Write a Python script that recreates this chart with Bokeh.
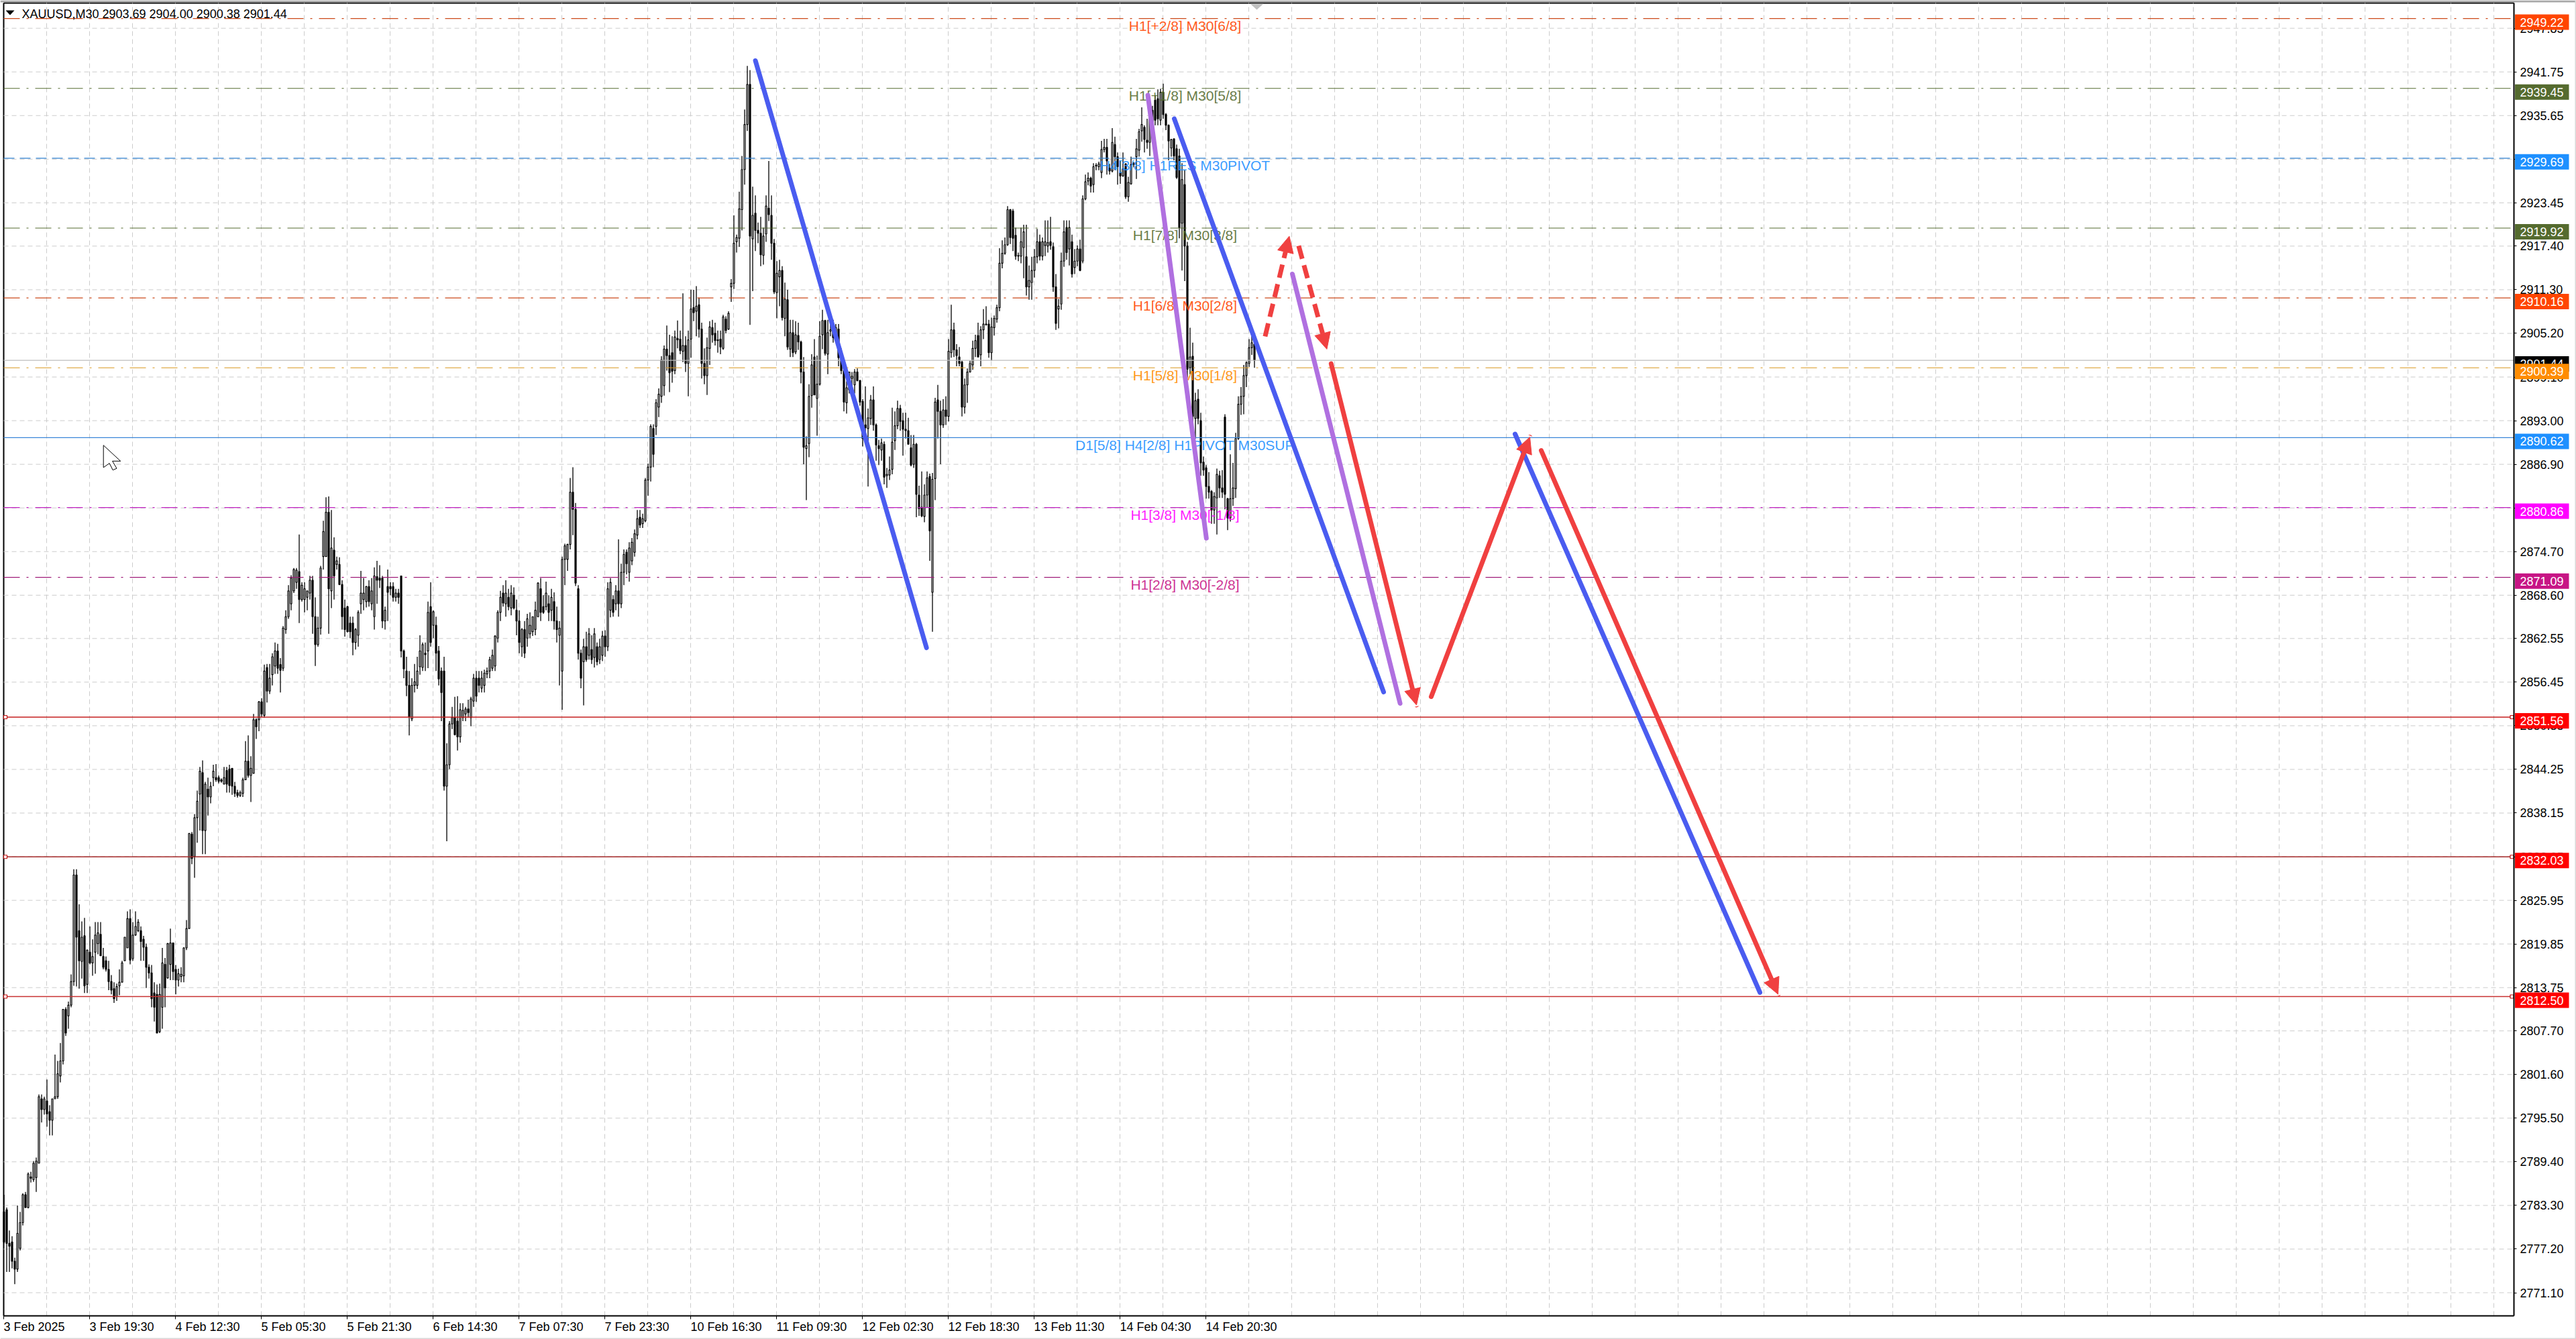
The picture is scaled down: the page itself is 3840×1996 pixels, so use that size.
from bokeh.plotting import figure
from bokeh.embed import file_html
from bokeh.resources import INLINE
from bokeh.models import (FixedTicker, NumeralTickFormatter, Label, BoxAnnotation, Arrow,
                          NormalHead, Range1d, ColumnDataSource, LinearAxis)
from bokeh.core.properties import value

opens = [
2782.4,2782.7,2778.0,2778.2,2775.5,2774.4,2777.3,2780.9,2784.8,2783.0,
2787.3,2786.9,2787.2,2789.2,2798.2,2796.7,2797.9,2796.4,2795.2,2798.2,
2798.5,2801.4,2803.5,2810.7,2809.8,2811.3,2814.6,2829.5,2821.7,2817.4,
2821.0,2814.2,2818.7,2817.2,2818.7,2819.9,2821.2,2818.1,2817.5,2816.3,
2814.6,2813.6,2812.5,2814.0,2814.5,2817.5,2819.3,2823.4,2817.8,2821.1,
2821.7,2821.7,2820.5,2819.4,2816.6,2815.8,2813.0,2812.8,2807.6,2811.0,
2817.0,2815.1,2817.0,2820.0,2816.3,2814.8,2815.3,2815.4,2819.3,2822.0,
2835.2,2832.1,2837.5,2840.8,2843.8,2835.7,2841.5,2840.4,2843.1,2843.1,
2843.1,2842.8,2842.2,2844.1,2844.3,2844.4,2841.9,2841.0,2840.6,2840.9,
2842.8,2845.4,2843.4,2843.7,2851.2,2851.2,2853.7,2851.8,2858.5,2855.2,
2857.5,2858.7,2860.8,2858.9,2858.4,2863.8,2865.6,2867.4,2869.2,2870.4,
2871.9,2868.0,2868.0,2868.3,2868.9,2870.7,2865.6,2861.7,2864.0,2874.0,
2874.0,2880.2,2869.2,2874.9,2872.9,2872.9,2870.1,2866.8,2867.0,2864.7,
2864.7,2862.0,2863.0,2867.4,2868.0,2867.7,2869.8,2867.4,2865.6,2871.2,
2871.0,2871.0,2865.0,2869.8,2869.8,2869.8,2868.3,2868.9,2871.3,2860.8,
2858.0,2856.0,2851.3,2856.0,2856.0,2858.6,2858.5,2860.5,2860.8,2867.0,
2864.4,2864.4,2860.8,2858.0,2858.0,2841.9,2844.9,2850.6,2851.5,2851.0,
2848.8,2851.5,2852.0,2852.7,2851.5,2853.8,2857.0,2857.0,2855.6,2856.0,
2857.6,2858.0,2858.4,2858.7,2862.6,2866.2,2868.9,2867.4,2868.3,2866.8,
2868.6,2866.5,2865.0,2861.4,2863.8,2862.6,2863.2,2863.5,2863.8,2865.6,
2869.5,2867.0,2867.0,2867.4,2866.5,2867.7,2865.0,2863.0,2858.0,2873.6,
2873.6,2875.7,2883.0,2880.6,2869.5,2860.5,2859.3,2861.4,2860.2,2861.0,
2859.9,2861.4,2859.6,2860.2,2862.9,2861.4,2866.5,2868.0,2867.4,2869.2,
2867.4,2871.8,2874.6,2871.8,2873.4,2874.6,2877.0,2879.5,2878.6,2879.0,
2884.7,2886.5,2891.9,2892.2,2894.9,2896.4,2897.9,2903.0,2902.1,2902.5,
2900.0,2904.5,2904.4,2902.7,2903.5,2901.0,2904.4,2908.8,2908.3,2909.2,
2905.8,2901.0,2899.3,2903.1,2906.0,2905.2,2904.3,2904.4,2903.1,2907.2,
2905.8,2911.7,2912.2,2918.0,2918.5,2922.5,2928.1,2934.4,2940.0,2918.4,
2922.0,2919.6,2919.2,2916.1,2919.1,2922.7,2921.7,2917.8,2910.9,2913.1,
2914.0,2907.3,2909.9,2903.0,2905.3,2902.6,2904.9,2904.0,2899.8,2889.1,
2889.8,2896.5,2901.9,2896.1,2898.1,2905.0,2907.0,2902.3,2905.5,2906.0,
2904.9,2905.8,2901.8,2900.0,2895.5,2897.3,2898.9,2898.0,2899.8,2898.6,
2895.7,2892.4,2891.9,2893.3,2895.9,2892.4,2889.5,2888.9,2889.7,2885.3,
2885.4,2886.2,2890.2,2892.3,2894.7,2893.0,2891.8,2891.6,2889.2,2886.9,
2889.7,2882.6,2880.9,2879.6,2882.6,2885.2,2869.0,2884.9,2895.9,2894.3,
2892.4,2894.5,2893.6,2902.5,2905.7,2902.9,2901.9,2901.2,2894.9,2898.0,
2899.8,2900.8,2903.1,2904.9,2902.2,2905.7,2906.4,2906.5,2902.5,2906.0,
2907.2,2908.8,2915.0,2916.4,2917.6,2922.5,2922.3,2918.9,2916.0,2916.0,
2917.2,2915.9,2911.7,2912.3,2914.0,2915.9,2918.0,2916.0,2917.5,2917.4,
2918.0,2917.3,2911.7,2908.6,2909.3,2915.3,2920.0,2917.0,2918.0,2914.4,
2915.3,2917.0,2915.3,2924.0,2926.5,2926.9,2926.0,2928.6,2928.5,2927.7,
2930.9,2931.2,2928.3,2927.9,2931.6,2929.9,2927.7,2927.2,2928.9,2924.3,
2926.1,2928.8,2929.9,2930.8,2933.5,2934.0,2932.2,2931.9,2936.4,2937.8,
2938.0,2935.0,2938.9,2935.8,2934.3,2931.1,2932.4,2931.0,2930.0,2920.6,
2926.0,2917.4,2900.4,2902.0,2893.3,2896.0,2893.0,2887.2,2886.4,2883.8,
2883.1,2880.5,2882.2,2885.3,2883.6,2893.5,2882.1,2879.4,2882.1,2883.5,
2890.5,2895.3,2896.4,2899.3,2901.0,2903.2,2903.69]

highs = [
2784.8,2783.0,2779.8,2779.0,2776.0,2783.3,2782.4,2785.0,2785.2,2787.9,
2788.0,2789.5,2790.0,2798.8,2798.8,2798.5,2800.9,2797.3,2798.2,2804.4,
2803.5,2806.0,2810.7,2811.0,2811.8,2815.6,2830.3,2830.3,2825.4,2823.0,
2823.5,2819.0,2822.3,2820.5,2822.9,2822.9,2822.9,2819.3,2818.1,2817.5,
2815.5,2814.5,2814.3,2816.3,2817.5,2820.8,2824.4,2824.7,2822.9,2824.4,
2823.3,2822.3,2821.0,2819.9,2817.0,2816.9,2814.5,2814.2,2814.3,2819.3,
2817.9,2820.0,2822.0,2820.0,2816.9,2816.4,2816.6,2819.4,2823.2,2835.3,
2835.5,2838.0,2841.3,2844.6,2845.5,2842.5,2843.1,2842.5,2844.9,2845.0,
2843.4,2843.0,2844.6,2844.6,2844.9,2844.4,2842.5,2841.4,2841.3,2843.1,
2848.2,2849.0,2846.1,2852.0,2851.4,2853.8,2854.2,2858.9,2859.0,2859.0,
2860.5,2862.0,2861.8,2859.8,2864.3,2866.5,2870.0,2871.4,2872.4,2872.4,
2877.1,2870.4,2870.4,2869.2,2871.3,2871.3,2868.3,2865.6,2872.7,2879.0,
2882.3,2882.4,2880.5,2876.7,2874.0,2873.9,2870.7,2868.0,2867.1,2865.6,
2865.6,2864.0,2866.5,2872.0,2871.0,2869.9,2870.7,2871.0,2872.5,2873.4,
2872.8,2871.3,2867.0,2872.2,2870.4,2870.4,2869.5,2869.5,2871.3,2861.0,
2860.0,2858.0,2857.0,2859.0,2860.0,2863.0,2862.0,2862.0,2867.7,2870.4,
2866.5,2865.6,2861.5,2858.5,2860.0,2847.9,2851.0,2853.0,2854.4,2854.5,
2853.5,2853.5,2853.0,2854.0,2854.4,2857.6,2858.0,2858.0,2858.0,2858.2,
2858.5,2860.0,2861.0,2863.0,2866.5,2869.2,2870.0,2870.7,2869.5,2870.0,
2869.7,2868.0,2866.5,2864.0,2865.0,2866.0,2866.2,2865.6,2867.7,2870.4,
2871.0,2868.6,2870.5,2868.6,2869.5,2869.0,2867.0,2865.0,2874.0,2875.8,
2875.8,2885.0,2886.5,2881.5,2870.0,2861.0,2862.5,2863.5,2864.0,2863.0,
2864.0,2862.0,2862.5,2863.6,2863.7,2870.4,2871.0,2868.6,2870.0,2876.4,
2873.0,2875.0,2875.0,2876.0,2876.6,2877.8,2880.5,2880.5,2880.0,2885.0,
2887.0,2892.5,2892.5,2896.0,2897.5,2902.0,2903.5,2906.3,2905.0,2904.8,
2905.6,2907.0,2905.6,2910.8,2904.8,2905.6,2911.3,2911.3,2911.8,2910.2,
2906.7,2903.1,2904.6,2906.9,2907.1,2906.7,2905.6,2905.6,2907.8,2907.6,
2908.3,2912.8,2921.7,2919.0,2925.0,2930.0,2936.5,2942.6,2942.0,2925.7,
2924.5,2920.7,2921.5,2920.0,2924.5,2929.3,2924.5,2918.4,2915.3,2915.5,
2914.6,2912.3,2911.3,2907.1,2907.1,2906.9,2906.7,2904.2,2901.9,2890.8,
2898.1,2902.3,2904.4,2902.1,2906.9,2908.5,2907.1,2907.1,2907.5,2907.1,
2906.5,2906.5,2903.1,2900.0,2898.5,2899.8,2899.8,2900.2,2900.3,2898.7,
2896.0,2897.8,2894.7,2896.6,2897.8,2892.6,2890.3,2890.5,2890.1,2886.4,
2888.0,2894.8,2894.3,2895.8,2895.2,2894.1,2894.1,2893.4,2891.0,2891.0,
2889.9,2883.9,2885.9,2884.1,2885.9,2885.6,2885.7,2896.2,2898.0,2895.8,
2896.0,2896.4,2904.4,2909.2,2906.7,2903.7,2903.3,2901.4,2898.9,2900.3,
2901.4,2904.2,2905.0,2906.7,2906.2,2908.6,2909.0,2907.1,2907.4,2907.7,
2909.2,2917.1,2918.2,2918.6,2923.0,2922.6,2922.6,2920.0,2916.5,2920.0,
2920.4,2920.4,2914.7,2915.9,2917.0,2919.8,2919.0,2918.6,2921.0,2921.0,
2921.5,2917.9,2913.5,2910.0,2916.5,2921.0,2921.0,2921.0,2919.0,2917.0,
2917.5,2918.3,2924.5,2927.4,2927.7,2927.1,2929.0,2929.0,2929.2,2932.1,
2932.4,2932.4,2928.9,2933.9,2932.7,2930.5,2929.3,2930.5,2929.0,2927.1,
2929.9,2929.1,2932.4,2933.8,2936.8,2934.3,2935.2,2937.0,2937.0,2938.5,
2939.3,2939.4,2940.1,2936.0,2934.4,2932.4,2932.4,2931.6,2931.0,2929.0,
2928.0,2918.0,2906.0,2903.9,2896.9,2897.4,2894.1,2888.0,2886.8,2885.8,
2883.3,2883.0,2886.3,2886.0,2886.1,2893.9,2882.2,2888.3,2887.1,2891.3,
2896.4,2897.7,2900.8,2901.3,2904.4,2904.9,2904.0]

lows = [
2778.0,2774.0,2774.0,2774.5,2772.3,2774.0,2777.0,2780.5,2783.0,2782.9,
2786.5,2786.6,2785.2,2789.2,2794.9,2796.0,2794.3,2793.1,2793.1,2798.2,
2798.2,2800.5,2803.0,2807.0,2808.0,2811.0,2814.0,2813.9,2813.6,2815.0,
2813.0,2813.0,2817.0,2815.4,2815.7,2818.4,2818.2,2816.3,2816.0,2813.4,
2812.8,2811.6,2811.9,2812.7,2814.5,2817.5,2819.3,2817.0,2817.5,2821.0,
2821.5,2817.5,2817.5,2813.7,2815.0,2811.0,2809.0,2807.4,2807.4,2808.0,
2811.0,2815.0,2814.8,2814.8,2812.8,2813.9,2814.5,2814.5,2819.0,2822.0,
2831.0,2829.1,2834.0,2835.7,2832.4,2832.4,2837.8,2839.5,2841.9,2842.5,
2842.3,2842.4,2842.2,2841.0,2841.0,2840.7,2840.4,2840.3,2840.4,2840.4,
2842.8,2843.1,2839.7,2843.7,2848.5,2849.6,2851.6,2851.5,2853.6,2854.8,
2856.0,2857.6,2857.6,2855.0,2858.0,2863.2,2865.3,2866.5,2868.9,2869.5,
2864.7,2867.7,2866.2,2866.5,2868.0,2863.2,2858.7,2861.4,2863.1,2872.2,
2874.0,2863.2,2866.8,2868.0,2872.2,2870.0,2863.8,2862.8,2863.4,2862.6,
2860.2,2861.0,2861.4,2866.0,2866.5,2866.9,2867.0,2866.5,2863.8,2867.4,
2869.6,2864.0,2863.8,2865.0,2868.6,2867.7,2867.7,2867.4,2859.9,2857.0,
2854.5,2849.0,2851.0,2855.0,2855.5,2857.5,2858.0,2858.0,2858.4,2861.4,
2862.6,2858.0,2856.0,2851.0,2841.3,2834.2,2844.3,2849.9,2849.0,2846.9,
2848.0,2851.0,2851.0,2851.5,2850.3,2853.0,2853.7,2855.0,2855.0,2855.0,
2857.0,2857.0,2858.0,2858.0,2862.0,2865.0,2867.0,2865.6,2866.5,2865.8,
2866.6,2863.0,2860.5,2860.0,2859.8,2861.4,2862.6,2862.9,2863.0,2865.5,
2865.0,2866.0,2866.5,2865.0,2865.0,2863.8,2862.0,2856.0,2852.6,2870.0,
2872.0,2875.0,2877.0,2869.9,2859.6,2855.6,2853.2,2859.3,2859.6,2859.0,
2858.5,2858.8,2859.0,2859.4,2860.0,2860.8,2865.5,2865.6,2866.5,2865.6,
2866.8,2870.0,2871.5,2870.5,2872.8,2874.0,2876.4,2878.0,2878.0,2878.8,
2882.5,2884.5,2886.5,2891.0,2893.5,2895.5,2896.5,2900.0,2897.0,2898.3,
2899.5,2903.1,2902.3,2901.2,2899.8,2896.4,2901.8,2906.9,2904.8,2904.6,
2898.9,2898.1,2896.6,2900.8,2903.9,2903.5,2902.5,2902.3,2902.9,2905.2,
2905.7,2909.6,2911.4,2916.5,2917.3,2919.6,2926.0,2933.5,2906.4,2911.1,
2916.7,2917.8,2914.6,2914.8,2918.0,2920.9,2915.5,2910.7,2907.3,2909.0,
2907.0,2904.8,2902.9,2901.9,2901.9,2902.3,2902.9,2898.2,2886.9,2881.9,
2887.9,2894.8,2896.6,2890.9,2897.9,2903.0,2902.1,2899.5,2904.8,2903.9,
2904.4,2900.6,2899.5,2894.3,2894.0,2896.8,2896.8,2896.8,2898.5,2895.1,
2889.4,2890.1,2883.8,2892.4,2891.6,2887.4,2886.8,2887.4,2884.1,2883.6,
2884.7,2885.5,2888.9,2891.8,2891.6,2888.1,2890.5,2889.7,2886.6,2886.4,
2879.5,2879.7,2879.5,2878.8,2880.9,2873.4,2863.5,2881.9,2890.5,2886.9,
2892.0,2892.4,2892.9,2901.8,2901.9,2900.6,2900.6,2893.6,2894.0,2895.5,
2899.8,2900.1,2901.9,2901.9,2900.6,2904.4,2906.3,2901.8,2901.4,2904.9,
2906.7,2908.3,2914.3,2916.2,2917.4,2917.7,2916.7,2915.5,2915.3,2915.0,
2912.9,2910.5,2909.9,2909.9,2913.0,2915.0,2915.4,2915.4,2916.0,2916.5,
2916.9,2911.0,2905.7,2905.9,2908.5,2914.5,2915.5,2914.7,2913.0,2913.5,
2914.6,2913.9,2915.0,2923.8,2925.9,2924.9,2924.9,2928.0,2928.0,2926.9,
2930.5,2927.4,2927.4,2927.7,2928.0,2926.0,2926.1,2927.1,2924.0,2923.6,
2926.0,2928.4,2926.8,2929.9,2932.0,2930.5,2931.0,2930.0,2933.5,2934.3,
2934.3,2934.3,2935.2,2933.6,2929.4,2929.9,2929.4,2926.8,2918.5,2914.0,
2912.5,2899.0,2899.5,2890.5,2890.5,2892.5,2885.3,2885.3,2882.1,2882.1,
2878.6,2878.6,2877.1,2882.2,2882.2,2880.6,2877.7,2878.9,2881.1,2882.2,
2890.3,2893.8,2893.9,2897.7,2900.5,2902.2,2900.38]

closes = [
2778.2,2778.0,2777.6,2775.5,2774.4,2779.4,2780.9,2784.8,2783.0,2787.7,
2787.1,2789.2,2789.5,2798.5,2796.7,2798.2,2796.1,2795.2,2798.2,2798.5,
2801.7,2803.5,2810.7,2807.4,2811.3,2814.6,2829.5,2820.8,2817.5,2820.8,
2814.0,2819.0,2817.2,2818.1,2821.1,2821.4,2818.2,2816.6,2816.3,2814.6,
2813.4,2812.2,2813.9,2814.5,2817.2,2820.8,2823.4,2817.6,2821.1,2822.3,
2822.9,2820.2,2819.4,2816.6,2815.8,2812.2,2811.0,2807.4,2812.8,2817.2,
2813.7,2819.9,2820.0,2816.0,2814.8,2815.7,2815.6,2819.3,2822.0,2835.3,
2831.8,2837.5,2839.8,2844.0,2835.7,2842.2,2840.4,2841.9,2844.0,2842.8,
2842.6,2842.6,2843.1,2842.2,2842.0,2841.9,2840.9,2840.6,2841.0,2842.8,
2845.4,2843.4,2844.4,2851.2,2850.2,2853.7,2852.0,2858.0,2855.2,2857.0,
2860.0,2860.8,2858.4,2858.1,2864.0,2865.6,2869.2,2871.0,2872.2,2872.1,
2868.0,2870.0,2869.5,2869.2,2870.7,2865.6,2861.7,2864.0,2872.4,2877.5,
2880.2,2869.5,2875.2,2871.3,2873.4,2870.1,2865.6,2863.8,2863.5,2863.5,
2862.0,2863.8,2866.2,2868.9,2868.9,2869.8,2867.7,2869.2,2871.3,2870.7,
2870.7,2865.0,2866.5,2869.0,2869.5,2868.3,2868.9,2868.3,2860.8,2858.3,
2856.0,2851.6,2856.0,2856.5,2858.0,2860.8,2861.7,2860.3,2866.2,2862.0,
2866.3,2860.5,2856.9,2855.0,2841.9,2844.9,2850.6,2851.5,2849.1,2848.8,
2852.6,2852.5,2852.7,2852.2,2854.1,2857.0,2854.5,2856.0,2857.0,2857.7,
2858.0,2859.6,2860.2,2862.9,2866.2,2868.3,2867.5,2868.9,2867.0,2868.9,
2866.8,2865.0,2862.0,2863.8,2860.5,2865.3,2864.4,2865.6,2866.5,2870.3,
2866.2,2866.2,2868.9,2866.2,2868.3,2865.0,2863.8,2864.0,2873.6,2875.5,
2875.7,2883.0,2880.6,2870.3,2860.5,2857.0,2861.4,2859.6,2863.2,2859.6,
2863.2,2859.3,2861.4,2862.9,2861.4,2869.5,2870.4,2866.2,2869.2,2867.4,
2871.8,2874.3,2873.0,2875.2,2876.0,2877.2,2879.3,2878.4,2879.3,2884.7,
2886.5,2892.2,2888.3,2895.5,2896.7,2901.5,2903.0,2902.1,2899.7,2899.9,
2904.7,2904.3,2902.8,2903.5,2901.0,2904.3,2908.6,2908.1,2909.0,2905.8,
2901.0,2899.3,2903.2,2906.1,2905.0,2904.2,2904.2,2903.3,2907.5,2905.6,
2908.0,2912.2,2917.8,2918.6,2922.6,2928.1,2934.4,2940.0,2918.8,2921.7,
2919.6,2919.2,2916.2,2918.8,2923.0,2921.8,2917.8,2911.0,2913.6,2914.0,
2907.4,2910.0,2903.3,2905.3,2902.5,2905.0,2904.0,2899.8,2889.3,2889.5,
2896.4,2900.8,2896.6,2898.1,2904.8,2907.0,2902.4,2905.3,2905.7,2904.6,
2906.0,2901.8,2900.0,2895.6,2897.6,2899.8,2899.2,2899.8,2898.6,2895.6,
2890.5,2892.0,2893.4,2895.9,2892.4,2889.6,2889.1,2889.9,2885.1,2885.5,
2886.1,2890.0,2892.3,2894.7,2892.9,2891.8,2891.6,2889.7,2886.8,2889.7,
2882.7,2880.7,2879.7,2882.6,2885.0,2877.6,2884.8,2895.6,2894.3,2892.4,
2894.5,2893.6,2902.7,2905.7,2902.9,2902.1,2901.0,2894.9,2898.0,2899.8,
2901.0,2903.1,2904.2,2901.9,2905.7,2906.5,2906.5,2902.5,2906.1,2907.3,
2908.8,2915.0,2916.4,2917.6,2922.5,2918.6,2918.5,2916.0,2916.1,2918.0,
2919.4,2911.7,2912.6,2914.0,2915.9,2918.0,2916.0,2918.0,2918.0,2917.9,
2917.5,2911.7,2906.6,2909.0,2915.3,2919.4,2916.5,2920.0,2913.5,2915.3,
2917.0,2914.0,2924.0,2926.4,2926.9,2925.8,2928.5,2928.7,2928.9,2930.9,
2931.2,2929.3,2927.9,2931.9,2929.9,2928.5,2927.2,2928.2,2924.3,2926.3,
2928.8,2929.0,2931.0,2933.4,2934.4,2932.3,2931.9,2936.4,2934.0,2935.0,
2935.2,2938.9,2935.8,2934.3,2932.1,2932.3,2930.0,2927.0,2920.0,2926.7,
2917.4,2900.2,2901.9,2893.6,2895.8,2893.3,2887.1,2886.1,2883.8,2883.0,
2880.5,2882.4,2885.5,2883.6,2883.0,2882.7,2879.4,2882.1,2883.6,2890.5,
2895.3,2896.4,2899.3,2901.1,2903.2,2903.9,2901.44]

assert len(opens) == len(highs) == len(lows) == len(closes), (len(opens), len(highs), len(lows), len(closes))

price_ticks = [2947.85, 2941.75, 2935.65, 2929.55, 2923.45, 2917.40, 2911.30, 2905.20, 2899.10,
               2893.00, 2886.90, 2880.80, 2874.70, 2868.60, 2862.55, 2856.45, 2850.35, 2844.25,
               2838.15, 2832.05, 2825.95, 2819.85, 2813.75, 2807.70, 2801.60, 2795.50, 2789.40,
               2783.30, 2777.20, 2771.10]
time_labels = ["3 Feb 2025", "3 Feb 19:30", "4 Feb 12:30", "5 Feb 05:30", "5 Feb 21:30", "6 Feb 14:30",
               "7 Feb 07:30", "7 Feb 23:30", "10 Feb 16:30", "11 Feb 09:30", "12 Feb 02:30",
               "12 Feb 18:30", "13 Feb 11:30", "14 Feb 04:30", "14 Feb 20:30"]

level_prices = [2949.22, 2939.45, 2929.69, 2919.92, 2910.16, 2900.39, 2890.62, 2880.86, 2871.09]
level_texts = ["H1[+2/8] M30[6/8]", "H1[+1/8] M30[5/8]", "H4[3/8] H1RES M30PIVOT", "H1[7/8] M30[3/8]",
               "H1[6/8] M30[2/8]", "H1[5/8] M30[1/8]", "D1[5/8] H4[2/8] H1PIVOT M30SUP",
               "H1[3/8] M30[-1/8]", "H1[2/8] M30[-2/8]"]
level_colors = ["#FF4500", "#556B2F", "#1E90FF", "#556B2F", "#FF4500", "#FF8C00", "#1E90FF", "#FF00FF", "#C71585"]
line_colors = ["#CC4A1A", "#556B2F", "#2F80D0", "#556B2F", "#CC4A1A", "#D9971F", "#3A86D8", "#C020C0", "#A01C78"]
level_dash = ["24 10 3 10", "24 10 3 10", "16 8", "24 10 3 10", "24 10 3 10", "24 10 3 10", "solid",
              "24 10 3 10", "24 10 3 10"]
red_prices = [2851.56, 2832.03, 2812.50]
red_colors = ["#C41E1E", "#A52A2A", "#C83030"]
red_widths = [1.6, 1.6, 1.3]
last_price = 2901.44

blue_x = [[280.15, 343.9], [436.25, 514.25], [563.25, 654.5]]
blue_y = [[2943.32, 2861.26], [2935.19, 2855.07], [2891.13, 2813.07]]
purple_x = [[426.4, 448.2], [480.25, 520.4]]
purple_y = [[2938.48, 2876.58], [2913.5, 2853.48]]
red_solid = [(494.7, 2900.96, 526.5, 2853.25), (532.0, 2854.42, 568.75, 2890.71), (573.0, 2888.83, 661.25, 2812.82)]
red_dashed = [(470.1, 2904.78, 479.1, 2918.78), (482.6, 2917.44, 493.1, 2903.0)]

# ---- mapping between screenshot pixels and data (chart frame geometry)
BAR_PX, X0_PX = 4.0, 5.0
PX_PER_USD, REF_PRICE, REF_Y = 10.664, 2941.75, 106.7
FRAME_L, FRAME_T, FRAME_R, FRAME_B = 5, 4, 3747, 1961

def bx(px):
    return (px - X0_PX) / BAR_PX

def py(px):
    return REF_PRICE - (px - REF_Y) / PX_PER_USD

def ly(price):
    return REF_Y + (REF_PRICE - price) * PX_PER_USD

FONT = "Liberation Sans"
# the plotting area covers the whole window so that price flags and time labels can sit
# beside the chart; the axes are pinned with fixed_location at the chart's own edges
p = figure(frame_width=3840, frame_height=1996,
           x_range=Range1d(bx(0), bx(3840)), y_range=Range1d(py(1996), py(0)),
           x_axis_location=None, y_axis_location=None,
           output_backend="svg", toolbar_location=None,
           min_border=0, min_border_left=0, min_border_right=0, min_border_top=0, min_border_bottom=0,
           background_fill_color="white", border_fill_color="white")
p.outline_line_color = None
p.xgrid.visible = False
p.ygrid.visible = False

# axes
yaxis = LinearAxis(fixed_location=bx(FRAME_R), bounds=(py(FRAME_B), py(FRAME_T)),
                   ticker=FixedTicker(ticks=price_ticks), formatter=NumeralTickFormatter(format="0.00"),
                   major_label_text_font=FONT, major_label_text_font_size="18px",
                   major_label_text_color="black", major_label_standoff=5, major_tick_out=4, major_tick_in=0,
                   minor_tick_line_color=None, axis_line_color="black", axis_line_width=2)
p.add_layout(yaxis, "right")

tick_bars = [32 * i for i in range(len(time_labels))]
xaxis = LinearAxis(fixed_location=py(FRAME_B), bounds=(bx(FRAME_L), bx(FRAME_R)),
                   ticker=FixedTicker(ticks=tick_bars), major_label_overrides={t: "" for t in tick_bars},
                   major_tick_out=5, major_tick_in=0, minor_tick_line_color=None,
                   axis_line_color="black", axis_line_width=2)
p.add_layout(xaxis, "below")

# left and top frame lines
p.line([bx(FRAME_L), bx(FRAME_L)], [py(FRAME_T), py(FRAME_B)], line_color="black", line_width=2)
p.line([bx(FRAME_L), bx(FRAME_R)], [py(FRAME_T), py(FRAME_T)], line_color="black", line_width=2)

# grid
grid_bars = [16 * i for i in range(1, 59)]
p.segment(grid_bars, [py(FRAME_B)] * len(grid_bars), grid_bars, [py(FRAME_T)] * len(grid_bars),
          line_color="#CCCCCC", line_dash="7 5", line_width=1)
p.segment([bx(FRAME_L)] * len(price_ticks), price_ticks, [bx(FRAME_R)] * len(price_ticks), price_ticks,
          line_color="#CCCCCC", line_dash="7 5", line_width=1)

# candles (half a pixel off so that 1px strokes stay crisp)
n = [i + 0.125 for i in range(len(opens))]
src = ColumnDataSource(dict(
    x=n, high=highs, low=lows,
    top=[max(o, c) for o, c in zip(opens, closes)],
    bottom=[min(o, c) for o, c in zip(opens, closes)],
    fill=["white" if c >= o else "black" for o, c in zip(opens, closes)]))
p.segment("x", "low", "x", "high", source=src, line_color="black", line_width=1.3)
p.vbar(x="x", top="top", bottom="bottom", width=0.5, fill_color="fill", line_color="black",
       line_width=1.2, source=src)

# horizontal levels
xs_full = [bx(FRAME_L), bx(FRAME_R)]
p.line(xs_full, [last_price, last_price], line_color="#BDBDBD", line_width=1.2)
for price, color, dash in zip(level_prices, line_colors, level_dash):
    p.line(xs_full, [price, price], line_color=color, line_width=1.2, line_dash=dash)
for price, color, width in zip(red_prices, red_colors, red_widths):
    p.line(xs_full, [price, price], line_color=color, line_width=width)
    p.scatter([bx(7.5), bx(3744)], [price, price], marker="square", size=5, fill_color="white",
              line_color="#C01010", line_width=1.2)

# level captions
for price, text, color in zip(level_prices, level_texts, level_colors):
    p.text([bx(1766)], [price], text=[text], text_color=color, text_align="center",
           text_baseline="middle", y_offset=11, text_font=value(FONT), text_font_size="21px",
           text_alpha=0.9)

# trend lines
for xs, ys in zip(blue_x, blue_y):
    p.line(xs, ys, line_color="#4A5CF0", line_width=7, line_cap="round")
for xs, ys in zip(purple_x, purple_y):
    p.line(xs, ys, line_color="#B070E0", line_width=7, line_cap="round")
for x0, y0, x1, y1 in red_solid:
    p.add_layout(Arrow(end=NormalHead(size=24, fill_color="#F04040", line_color="#F04040"),
                       x_start=x0, y_start=y0, x_end=x1, y_end=y1, line_color="#F04040", line_width=7,
                       line_cap="round"))
for x0, y0, x1, y1 in red_dashed:
    p.add_layout(Arrow(end=NormalHead(size=24, fill_color="#F04040", line_color="#F04040"),
                       x_start=x0, y_start=y0, x_end=x1, y_end=y1, line_color="#F04040", line_width=7,
                       line_dash="20 10"))

# mouse cursor and small markers
cur_x = [241, 241, 255, 263, 272, 262, 281]
cur_y = [1040, 1092, 1082, 1098, 1094, 1077, 1077]
p.patch([bx(v / 1.568) for v in cur_x], [py(v / 1.568) for v in cur_y], fill_color="white",
        line_color="black", line_width=1)
p.patch([bx(1863), bx(1883), bx(1873)], [py(5), py(5), py(14)], fill_color="#C0C0C0", line_color=None)
p.patch([bx(8), bx(21), bx(14.5)], [py(15), py(15), py(22)], fill_color="black", line_color=None)

# title text
p.add_layout(Label(x=bx(32), y=py(20), text="XAUUSD,M30  2903.69 2904.00 2900.38 2901.44",
                   text_font=FONT, text_font_size="18px", text_color="black", text_baseline="middle"))

# bottom time labels
for t, lab in zip(tick_bars, time_labels):
    p.add_layout(Label(x=t, y=py(1977), text=lab, text_font=FONT, text_font_size="18px",
                       text_color="black", text_baseline="middle"))

# price flags on the axis
flags = [(last_price, "#000000")] + list(zip(level_prices, level_colors)) + [(v, "#FF0000") for v in red_prices]
order = sorted(flags, key=lambda f: 0 if f[1] == "#000000" else 1)
for price, color in order:
    yy = ly(price)
    p.add_layout(BoxAnnotation(left=bx(3748.5), right=bx(3829), top=py(yy - 6), bottom=py(yy + 17),
                               fill_color=color, fill_alpha=1, line_color=None))
    p.add_layout(Label(x=bx(3756), y=py(yy + 5.5), text=f"{price:.2f}", text_color="white",
                       text_font=FONT, text_font_size="18px", text_baseline="middle"))

# window chrome
for l, r, t, b, c in [(0, 3840, 0, 3, "#A8A8A8"), (3838, 3840, 0, 1996, "#D8D8D8"), (0, 3840, 1994, 1996, "#D8D8D8")]:
    p.add_layout(BoxAnnotation(left=bx(l), right=bx(r), top=py(t), bottom=py(b), fill_color=c, fill_alpha=1,
                               line_color=None))

open("out.html", "w").write(file_html(p, INLINE))
